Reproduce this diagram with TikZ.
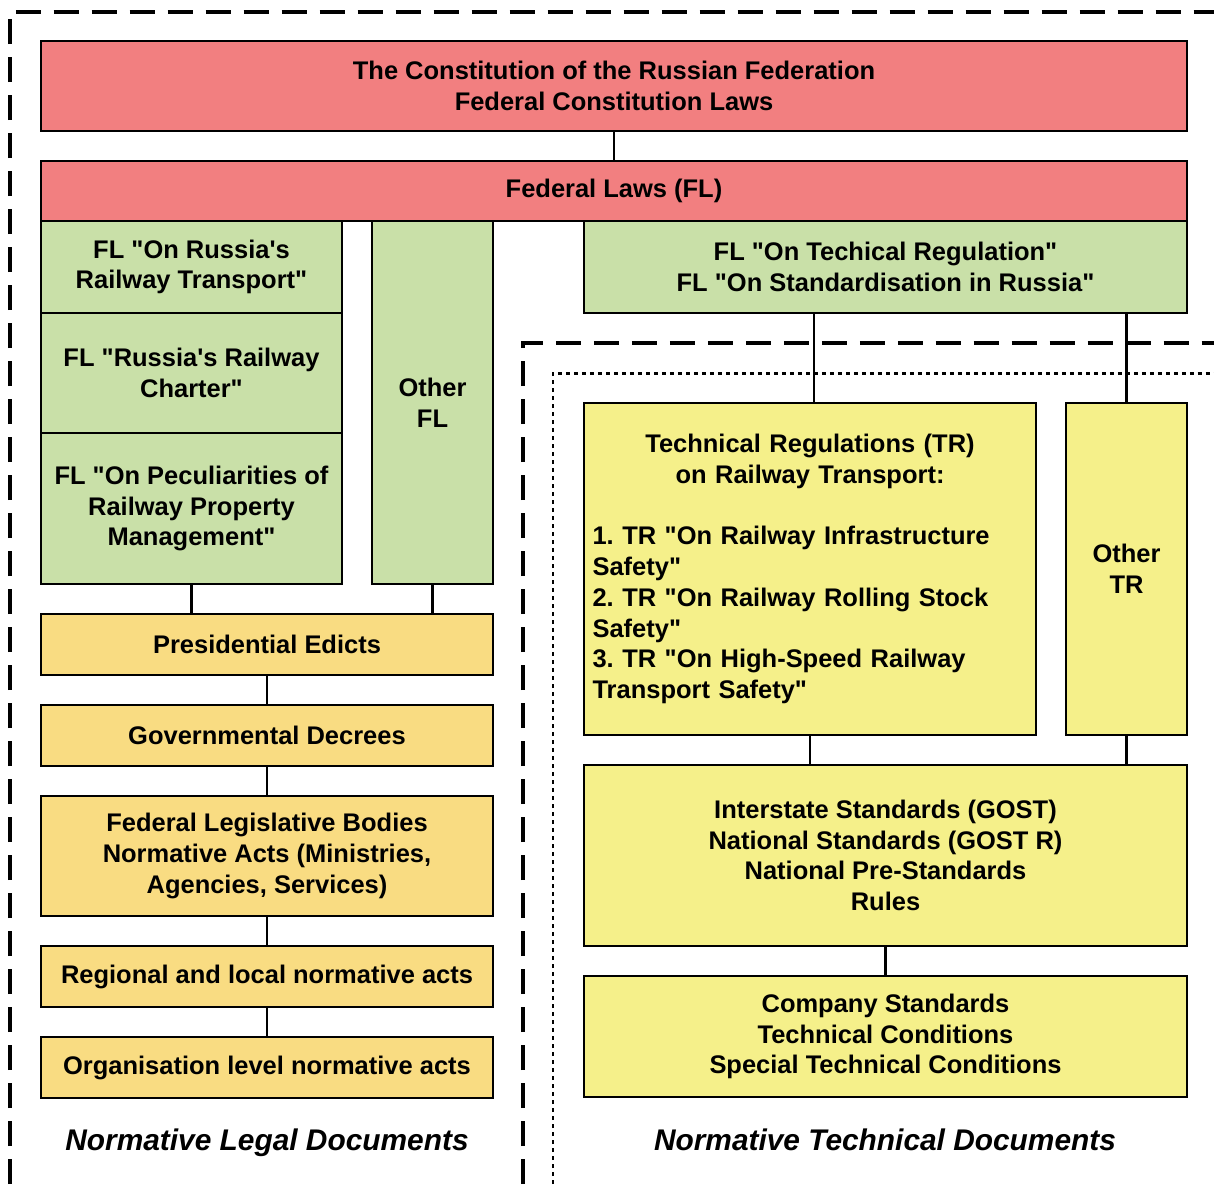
\documentclass[tikz,border=0pt]{standalone}
\usepackage{fontspec}
\setmainfont{Liberation Sans}[Ligatures=TeXOff]
\usetikzlibrary{positioning,calc}

\definecolor{lawred}{HTML}{F27F80}
\definecolor{lawgreen}{HTML}{C9E0A8}
\definecolor{legalyellow}{HTML}{F9DC82}
\definecolor{techyellow}{HTML}{F5F08A}

\begin{document}
\frenchspacing
\begin{tikzpicture}[
  x=0.02cm, y=-0.02cm,
  font=\fontsize{14.5}{17.5}\selectfont\bfseries,
  % Node Styles
  top_law/.style={draw, rectangle, line width=1.4pt, fill=lawred, align=center, inner sep=4pt},
  fl_law/.style={draw, rectangle, line width=1.4pt, fill=lawgreen, align=center, inner sep=4pt},
  legal_doc/.style={draw, rectangle, line width=1.4pt, fill=legalyellow, align=center, inner sep=4pt, minimum width=9.04cm},
  tech_doc/.style={draw, rectangle, line width=1.4pt, fill=techyellow, align=center, inner sep=4pt},
  % Line Styles
  link/.style={line width=1.4pt, black},
  zone_dash/.style={line width=1.8pt, dash pattern=on 0.5cm off 0.26cm},
  zone_dot/.style={line width=1.7pt, dash pattern=on 0.085cm off 0.075cm},
  % Label Styles
  zone_lbl/.style={font=\fontsize{17}{20}\selectfont\bfseries\itshape, anchor=base}
]
\useasboundingbox (0,0) rectangle (1214,1184);

% ================= ZONES =================
\draw[zone_dash] (10,1184) -- (10,12) -- (1214,12);
\draw[zone_dash] (523,1184) -- (523,343) -- (1214,343);
\draw[zone_dot]  (553,1184) -- (553,373) -- (1214,373);

% ================= NODES =================

% --- Top Level ---
\node[top_law, minimum width=22.92cm, minimum height=1.8cm] (const) at (614,86)
  {The Constitution of the Russian Federation\\Federal Constitution Laws};
\node[top_law, minimum width=22.92cm, minimum height=1.2cm] (fl) at (614,191) {Federal Laws (FL)};

% --- Federal Laws (Green) ---
\node[fl_law, minimum width=6.02cm, minimum height=1.84cm] (fl_rail) at (191.5,267)
  {FL "On Russia's\\Railway Transport"};
\node[fl_law, minimum width=6.02cm, minimum height=2.4cm] (fl_charter) at (191.5,373)
  {FL "Russia's Railway\\Charter"};
\node[fl_law, minimum width=6.02cm, minimum height=3.02cm] (fl_property) at (191.5,508.5)
  {FL "On Peculiarities of\\Railway Property\\Management"};
\node[fl_law, minimum width=2.42cm, minimum height=7.26cm] (fl_other) at (432.5,402.5) {Other\\FL};
\node[fl_law, minimum width=12.06cm, minimum height=1.84cm] (fl_tech) at (885.5,267)
  {FL "On Techical Regulation"\\FL "On Standardisation in Russia"};

% --- Legal Documents (Left Column) ---
\node[legal_doc, minimum height=1.22cm] (edicts)  at (267,644.5) {Presidential Edicts};
\node[legal_doc, minimum height=1.22cm] (decrees) at (267,735.5) {Governmental Decrees};
\node[legal_doc, minimum height=2.4cm]  (bodies)  at (267,856)
  {Federal Legislative Bodies\\Normative Acts (Ministries,\\Agencies, Services)};
\node[legal_doc, minimum height=1.22cm] (regional) at (267,976.5) {Regional and local normative acts};
\node[legal_doc, minimum height=1.22cm] (orglevel) at (267,1067.5) {Organisation level normative acts};

% --- Technical Documents (Right Column) ---
\node[tech_doc, minimum width=9.04cm, minimum height=6.64cm, text width=8.7cm, align=left] (tr) at (810,569)
  {{\centering Technical Regulations (TR)\\on Railway Transport:\par}\vspace{17.5pt}%
   1. TR "On Railway Infrastructure\\Safety"\\2. TR "On Railway Rolling Stock\\Safety"\\3. TR "On High-Speed Railway\\Transport Safety"};
\node[tech_doc, minimum width=2.42cm, minimum height=6.64cm] (tr_other) at (1126.5,569) {Other\\TR};
\node[tech_doc, minimum width=12.06cm, minimum height=3.62cm] (gost) at (885.5,855.5)
  {Interstate Standards (GOST)\\National Standards (GOST R)\\National Pre-Standards\\Rules};
\node[tech_doc, minimum width=12.06cm, minimum height=2.42cm] (company) at (885.5,1036.5)
  {Company Standards\\Technical Conditions\\Special Technical Conditions};

% --- Zone Labels ---
\node[zone_lbl] (legal_lbl) at (267,1150) {Normative Legal Documents};
\node[zone_lbl] (tech_lbl)  at (885,1150) {Normative Technical Documents};

% ================= CONNECTIONS =================

% 1. Constitution to Federal Laws
\draw[link] (const.south) -- (fl.north);

% 2. Federal Laws to Legal Chain
\draw[link] (fl_property.south) -- (fl_property.south |- edicts.north);
\draw[link] (fl_other.south) -- (fl_other.south |- edicts.north);
\draw[link] (edicts) -- (decrees);
\draw[link] (decrees) -- (bodies);
\draw[link] (bodies) -- (regional);
\draw[link] (regional) -- (orglevel);

% 3. Technical Chain
\coordinate (tr_top) at ($(tr.north)+(4,0)$);
\draw[link] (tr_top) -- (tr_top |- fl_tech.south);
\draw[link] (tr_other.north) -- (tr_other.north |- fl_tech.south);
\draw[link] (tr.south) -- (tr.south |- gost.north);
\draw[link] (tr_other.south) -- (tr_other.south |- gost.north);
\draw[link] (gost) -- (company);

\end{tikzpicture}
\end{document}
